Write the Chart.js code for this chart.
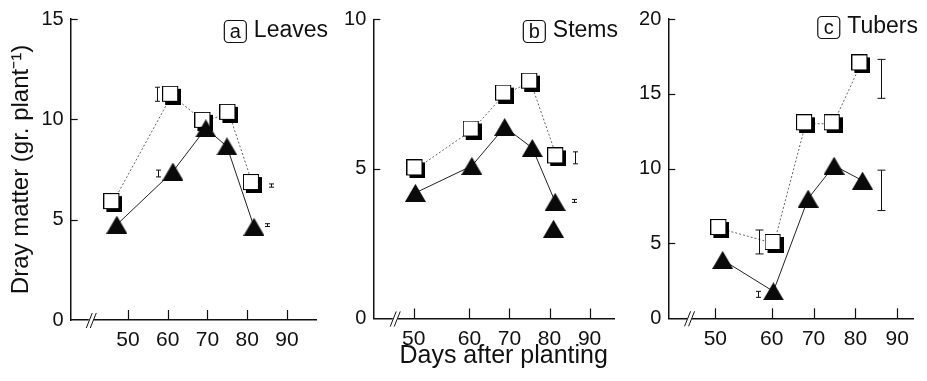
<!DOCTYPE html>
<html>
<head>
<meta charset="utf-8">
<script src="https://cdn.jsdelivr.net/npm/chart.js@4.4.0/dist/chart.umd.min.js"></script>
<style>
  html, body { margin: 0; padding: 0; background: #fff; }
  #wrap { position: relative; width: 927px; height: 381px; }
  .panel { position: absolute; top: 0; height: 381px; }
</style>
</head>
<body>
<div id="wrap">
  <div class="panel" style="left:0;width:330px"><canvas id="leaves"></canvas></div>
  <div class="panel" style="left:330px;width:295px"><canvas id="stems"></canvas></div>
  <div class="panel" style="left:625px;width:302px"><canvas id="tubers"></canvas></div>
</div>
<script>
// tick labels (days after planting)
const dayTicks = [50, 60, 70, 80, 90];

// (a) leaves
const leavesSqDays = [46.2, 61.0, 69.1, 75.4, 81.3];
const leavesSq = [5.85, 11.2, 9.9, 10.3, 6.8];
const leavesTriDays = [47.2, 61.3, 69.6, 74.9, 81.7];
const leavesTri = [4.75, 7.4, 9.55, 8.65, 4.65];
const leavesErrDays = [57.2, 57.6, 85.9, 84.9];
const leavesErrMid = [11.25, 7.3, 6.7, 4.73];
const leavesErrHalf = [0.35, 0.17, 0.08, 0.07];

// (b) stems
const stemsSqDays = [50.4, 60.7, 68.8, 75.3, 81.8];
const stemsSq = [5.0, 6.3, 7.5, 7.9, 5.4];
const stemsTriDays = [50.3, 60.6, 68.8, 75.7, 81.4];
const stemsTri = [4.2, 5.1, 6.4, 5.7, 3.9];
const stemsExtraDays = [81.0];
const stemsExtra = [3.0];
const stemsErrDays = [86.3, 86.1];
const stemsErrMid = [5.37, 3.93];
const stemsErrHalf = [0.2, 0.05];

// (c) tubers
const tubersSqDays = [50.8, 60.55, 68.1, 74.7, 81.3];
const tubersSq = [6.0, 5.0, 13.0, 13.0, 17.0];
const tubersTriDays = [51.3, 60.4, 68.7, 74.9, 81.7];
const tubersTri = [3.9, 1.8, 8.0, 10.2, 9.2];
const tubersErrDays = [57.8, 57.6, 86.0, 86.0];
const tubersErrMid = [5.1, 1.6, 16.0, 8.55];
const tubersErrHalf = [0.8, 0.2, 1.3, 1.35];

const FONT = "'Liberation Sans', Arial, Helvetica, sans-serif";
const INK = '#111';

// marker images: open square with drop shadow, filled triangle
function squareImg() {
  const c = document.createElement('canvas');
  c.width = 19; c.height = 19;
  const g = c.getContext('2d');
  g.fillStyle = '#000';
  g.fillRect(3, 3, 16, 16);
  g.fillStyle = '#fff';
  g.fillRect(0, 0, 16, 16);
  g.strokeStyle = '#000';
  g.lineWidth = 1;
  g.strokeRect(0.5, 0.5, 15, 15);
  return c;
}
function triangleImg() {
  const c = document.createElement('canvas');
  c.width = 21; c.height = 18;
  const g = c.getContext('2d');
  g.fillStyle = '#0a0a0a';
  g.beginPath();
  g.moveTo(10.5, 0); g.lineTo(21, 18); g.lineTo(0, 18);
  g.closePath();
  g.fill();
  return c;
}
const SQ = squareImg();
const TRI = triangleImg();

// days below 60 are drawn stretched in panels b and c (as in the original figure)
function makePos(k) {
  return d => d >= 60 ? d : 60 - (60 - d) * k;
}

function decorPlugin(p) {
  return {
    id: 'decor',
    afterDatasetsDraw(chart) {
      const ctx = chart.ctx;
      const xs = chart.scales.x, ys = chart.scales.y;
      const a = chart.chartArea;
      ctx.save();
      ctx.strokeStyle = INK;
      ctx.lineWidth = 1.2;
      // inward tick marks
      ys.ticks.forEach(t => {
        const y = Math.round(ys.getPixelForValue(t.value)) + 0.5;
        if (t.value === 0) return;
        ctx.beginPath(); ctx.moveTo(a.left, y); ctx.lineTo(a.left + 7, y); ctx.stroke();
      });
      xs.ticks.forEach(t => {
        const x = Math.round(xs.getPixelForValue(t.value)) + 0.5;
        ctx.beginPath(); ctx.moveTo(x, a.bottom); ctx.lineTo(x, a.bottom - 10); ctx.stroke();
      });
      // axis break mark
      const bx = xs.getPixelForValue(p.breakAt);
      ctx.fillStyle = '#fff';
      ctx.fillRect(bx - 3, a.bottom - 2, 5, 4);
      ctx.lineWidth = 1;
      [-2.5, 1.5].forEach(o => {
        ctx.beginPath();
        ctx.moveTo(bx + o - 3, a.bottom + 8);
        ctx.lineTo(bx + o + 3, a.bottom - 7);
        ctx.stroke();
      });
      // error bars
      p.errDays.forEach((d, i) => {
        const x = Math.round(xs.getPixelForValue(p.pos(d))) + 0.5;
        const y1 = ys.getPixelForValue(p.errMid[i] + p.errHalf[i]);
        const y2 = ys.getPixelForValue(p.errMid[i] - p.errHalf[i]);
        const cap = (y2 - y1) > 20 ? 4 : 2.5;
        ctx.beginPath();
        ctx.moveTo(x, y1); ctx.lineTo(x, y2);
        ctx.moveTo(x - cap, y1); ctx.lineTo(x + cap, y1);
        ctx.moveTo(x - cap, y2); ctx.lineTo(x + cap, y2);
        ctx.stroke();
      });
      ctx.fillStyle = INK;
      ctx.textBaseline = 'middle';
      // shared x-axis title, a little right of the middle panel's centre
      if (p.xTitle) {
        ctx.font = '25px ' + FONT;
        ctx.textAlign = 'center';
        ctx.fillText(p.xTitle, (a.left + a.right) / 2 + 10, 356);
      }
      // panel tag: boxed letter + organ name
      ctx.font = '23px ' + FONT;
      ctx.textAlign = 'right';
      ctx.fillText(p.word, p.tagRight, p.tagY);
      const w = ctx.measureText(p.word).width;
      const bw = 22, bh = 22;
      const bxl = p.tagRight - w - 8 - bw;
      ctx.lineWidth = 1.2;
      ctx.beginPath();
      ctx.roundRect(bxl + 0.5, p.tagY - bh / 2 + 0.5, bw, bh, 4);
      ctx.stroke();
      ctx.font = '20px ' + FONT;
      ctx.textAlign = 'center';
      ctx.fillText(p.letter, bxl + bw / 2 + 0.5, p.tagY + 1);
      ctx.restore();
    }
  };
}

function makePanel(p) {
  const pos = p.pos;
  const datasets = [
    {
      data: p.triDays.map((d, i) => ({ x: pos(d), y: p.tri[i] })),
      showLine: true, borderColor: '#222', borderWidth: 1,
      pointStyle: TRI, pointRadius: 10
    },
    {
      data: p.sqDays.map((d, i) => ({ x: pos(d), y: p.sq[i] })),
      showLine: true, borderColor: '#666', borderWidth: 1, borderDash: [2, 2],
      pointStyle: SQ, pointRadius: 10
    }
  ];
  if (p.extraDays) {
    datasets.unshift({
      data: p.extraDays.map((d, i) => ({ x: pos(d), y: p.extra[i] })),
      showLine: false, pointStyle: TRI, pointRadius: 10
    });
  }
  new Chart(document.getElementById(p.id), {
    type: 'scatter',
    data: { datasets },
    options: {
      responsive: true,
      maintainAspectRatio: false,
      animation: false,
      devicePixelRatio: 1,
      layout: { padding: { top: p.top, right: p.right, bottom: 0, left: 0 } },
      plugins: { legend: { display: false }, tooltip: { enabled: false } },
      scales: {
        x: {
          type: 'linear',
          min: p.xMin, max: p.xMax,
          afterBuildTicks: s => { s.ticks = dayTicks.map(d => ({ value: pos(d) })); },
          afterFit: s => { s.height = p.xH; },
          ticks: {
            callback: (v, i) => dayTicks[i],
            autoSkip: false, maxRotation: 0,
            font: { family: FONT, size: 21 }, color: INK, padding: 8
          },
          grid: { drawOnChartArea: false, drawTicks: false },
          border: { display: true, color: INK, width: 1.5 }
        },
        y: {
          min: 0, max: p.yMax,
          afterFit: s => { s.width = p.yW; },
          ticks: { stepSize: 5, font: { family: FONT, size: 20 }, color: INK, padding: 7 },
          grid: { drawOnChartArea: false, drawTicks: false },
          border: { display: true, color: INK, width: 1.5 },
          title: {
            display: !!p.yTitle, text: p.yTitle || '',
            font: { family: FONT, size: 24 }, color: INK, padding: 7
          }
        }
      }
    },
    plugins: [decorPlugin(p)]
  });
}

makePanel({
  id: 'leaves', pos: makePos(1), xMin: 35.6, xMax: 97.3, yMax: 15,
  top: 18.3, right: 14, xH: 61, yW: 70.7, breakAt: 40.9,
  sqDays: leavesSqDays, sq: leavesSq, triDays: leavesTriDays, tri: leavesTri,
  errDays: leavesErrDays, errMid: leavesErrMid, errHalf: leavesErrHalf,
  letter: 'a', word: 'Leaves', tagRight: 328, tagY: 31,
  yTitle: 'Dray matter (gr. plant\u207B\u00B9)'
});
makePanel({
  id: 'stems', pos: makePos(1.39), xMin: 36.0, xMax: 96.1, yMax: 10,
  top: 19.3, right: 7, xH: 62.5, yW: 43.3, breakAt: 41.6,
  sqDays: stemsSqDays, sq: stemsSq, triDays: stemsTriDays, tri: stemsTri,
  extraDays: stemsExtraDays, extra: stemsExtra,
  errDays: stemsErrDays, errMid: stemsErrMid, errHalf: stemsErrHalf,
  letter: 'b', word: 'Stems', tagRight: 288, tagY: 31,
  xTitle: 'Days after planting'
});
makePanel({
  id: 'tubers', pos: makePos(1.347), xMin: 35.3, xMax: 93.75, yMax: 20,
  top: 16, right: 14, xH: 62.7, yW: 43.3, breakAt: 40.5,
  sqDays: tubersSqDays, sq: tubersSq, triDays: tubersTriDays, tri: tubersTri,
  errDays: tubersErrDays, errMid: tubersErrMid, errHalf: tubersErrHalf,
  letter: 'c', word: 'Tubers', tagRight: 293, tagY: 27
});
</script>
</body>
</html>
